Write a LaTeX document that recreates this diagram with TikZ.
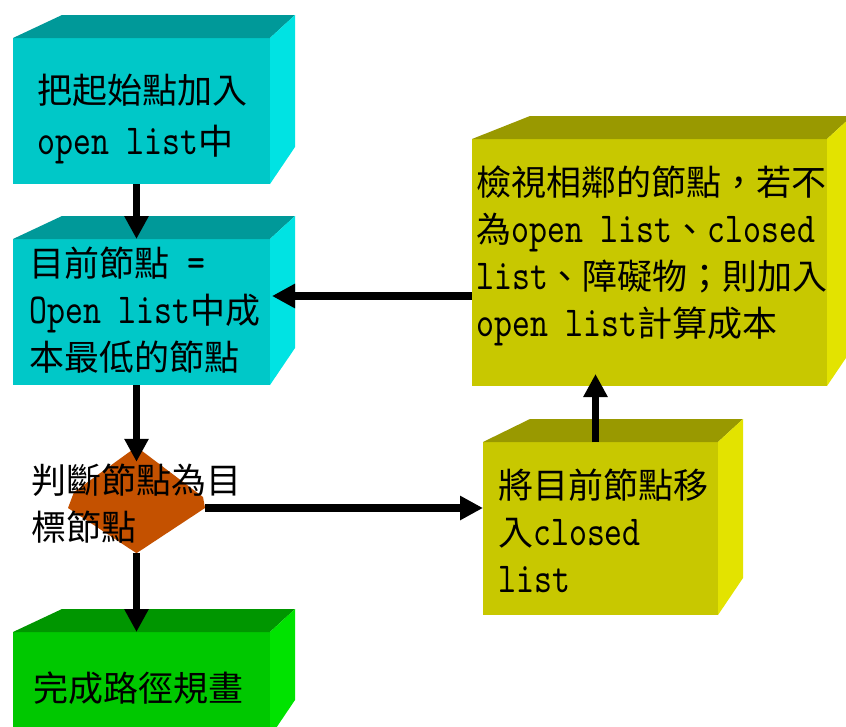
\documentclass[tikz,border=0pt]{standalone}
\usepackage{fontspec}
\usetikzlibrary{arrows.meta,calc}
\newfontfamily\cjkfont{Noto Sans CJK TC}
\newfontfamily\latfont{lmmono10-regular.otf}[Scale=1.22,FakeStretch=0.8]
\newcommand\zh[1]{{\cjkfont #1}}
\newcommand\en[1]{{\latfont #1}}

\definecolor{cyanfront}{HTML}{00C8C8}
\definecolor{cyantop}{HTML}{009999}
\definecolor{cyanside}{HTML}{00E3E3}
\definecolor{yelfront}{HTML}{C8C800}
\definecolor{yeltop}{HTML}{999900}
\definecolor{yelside}{HTML}{E3E300}
\definecolor{grnfront}{HTML}{00C800}
\definecolor{grntop}{HTML}{009600}
\definecolor{grnside}{HTML}{00E300}
\definecolor{hexfill}{HTML}{C45100}

\tikzset{
  frontface/.style={rectangle, draw=none, inner sep=0pt, outer sep=0pt, anchor=north west},
  label/.style={anchor=base west, align=left, inner sep=0pt, font=\fontsize{35}{47}\selectfont},
  arr/.style={line width=7.5pt, -{Triangle[length=23pt,width=23pt]}},
}

% top and right faces of a block: #1 node, #2 top colour, #3 side colour, #4 back-left shift
\newcommand\blockfaces[4]{%
  \fill[#2] (#1.north west) -- ++(#4,-23) -- ($(#1.north east)+(25,-23)$) -- (#1.north east) -- cycle;
  \fill[#3] (#1.north east) -- ++(25,-23) -- ($(#1.south east)+(25,-37)$) -- (#1.south east) -- cycle;
}

\begin{document}
\begin{tikzpicture}[x=1pt,y=-1pt]
\useasboundingbox (0,0) rectangle (846,726);
\fill[white] (0,0) rectangle (846,726);

% blocks
\node[frontface, fill=cyanfront, minimum width=257pt, minimum height=146pt] (b1) at (13,38) {};
\blockfaces{b1}{cyantop}{cyanside}{49}
\node[frontface, fill=cyanfront, minimum width=257pt, minimum height=146pt] (b2) at (13,239) {};
\blockfaces{b2}{cyantop}{cyanside}{49}
\node[frontface, fill=yelfront, minimum width=355pt, minimum height=247pt] (b3) at (472,139) {};
\blockfaces{b3}{yeltop}{yelside}{58}
\node[frontface, fill=yelfront, minimum width=235pt, minimum height=173pt] (b4) at (483,442) {};
\blockfaces{b4}{yeltop}{yelside}{47}
\node[frontface, fill=grnfront, minimum width=257pt, minimum height=105pt] (b5) at (13,632) {};
\blockfaces{b5}{grntop}{grnside}{49}

% decision hexagon
\node[inner sep=0pt, minimum width=137pt, minimum height=106pt] (hx) at (136.5,500) {};
\fill[hexfill] (hx.north) -- (203,497) -- (205,508) -- (hx.south) -- (68,508) -- (74,492) -- cycle;

% connectors
\draw[arr] (b1.south -| hx.north) -- (b2.north -| hx.north);
\draw[arr] (b2.south -| hx.north) -- ($(hx.north)+(0,15)$);
\coordinate (h3) at ($(hx.east)+(0,8)$);
\draw[arr] (h3) -- (h3 -| b4.west);
\coordinate (a4) at ($(b4.north)+(-5,0)$);
\draw[arr] (a4) -- ($(a4 |- b3.south)+(0,-12)$);
\coordinate (m5) at ($(b2.east)+(2,-16)$);
\draw[arr] (m5 -| b3.west) -- (m5);
\draw[arr] (hx.south) -- (b5.north -| hx.south);

% texts (each placed at the baseline of its last line)
\node[label] (t1) at (37,154) {\zh{把起始點加入}\\[4pt]\en{open list}\zh{中}};
\node[label] (t2) at (29,370) {\zh{目前節點}\en{ =}\\\en{Open list}\zh{中成}\\\zh{本最低的節點}};
\node[label] (t3) at (476,336) {\zh{檢視相鄰的節點，若不}\\\zh{為}\en{open list}\zh{、}\en{closed}\\\en{list}\zh{、障礙物；則加入}\\\en{open list}\zh{計算成本}};
\node[label] (t4) at (498,592) {\zh{將目前節點移}\\\zh{入}\en{closed}\\\en{list}};
\node[label] (t5) at (33,701) {\zh{完成路徑規畫}};
\node[label] (th) at (31,540) {\zh{判斷節點為目}\\\zh{標節點}};
\end{tikzpicture}
\end{document}
